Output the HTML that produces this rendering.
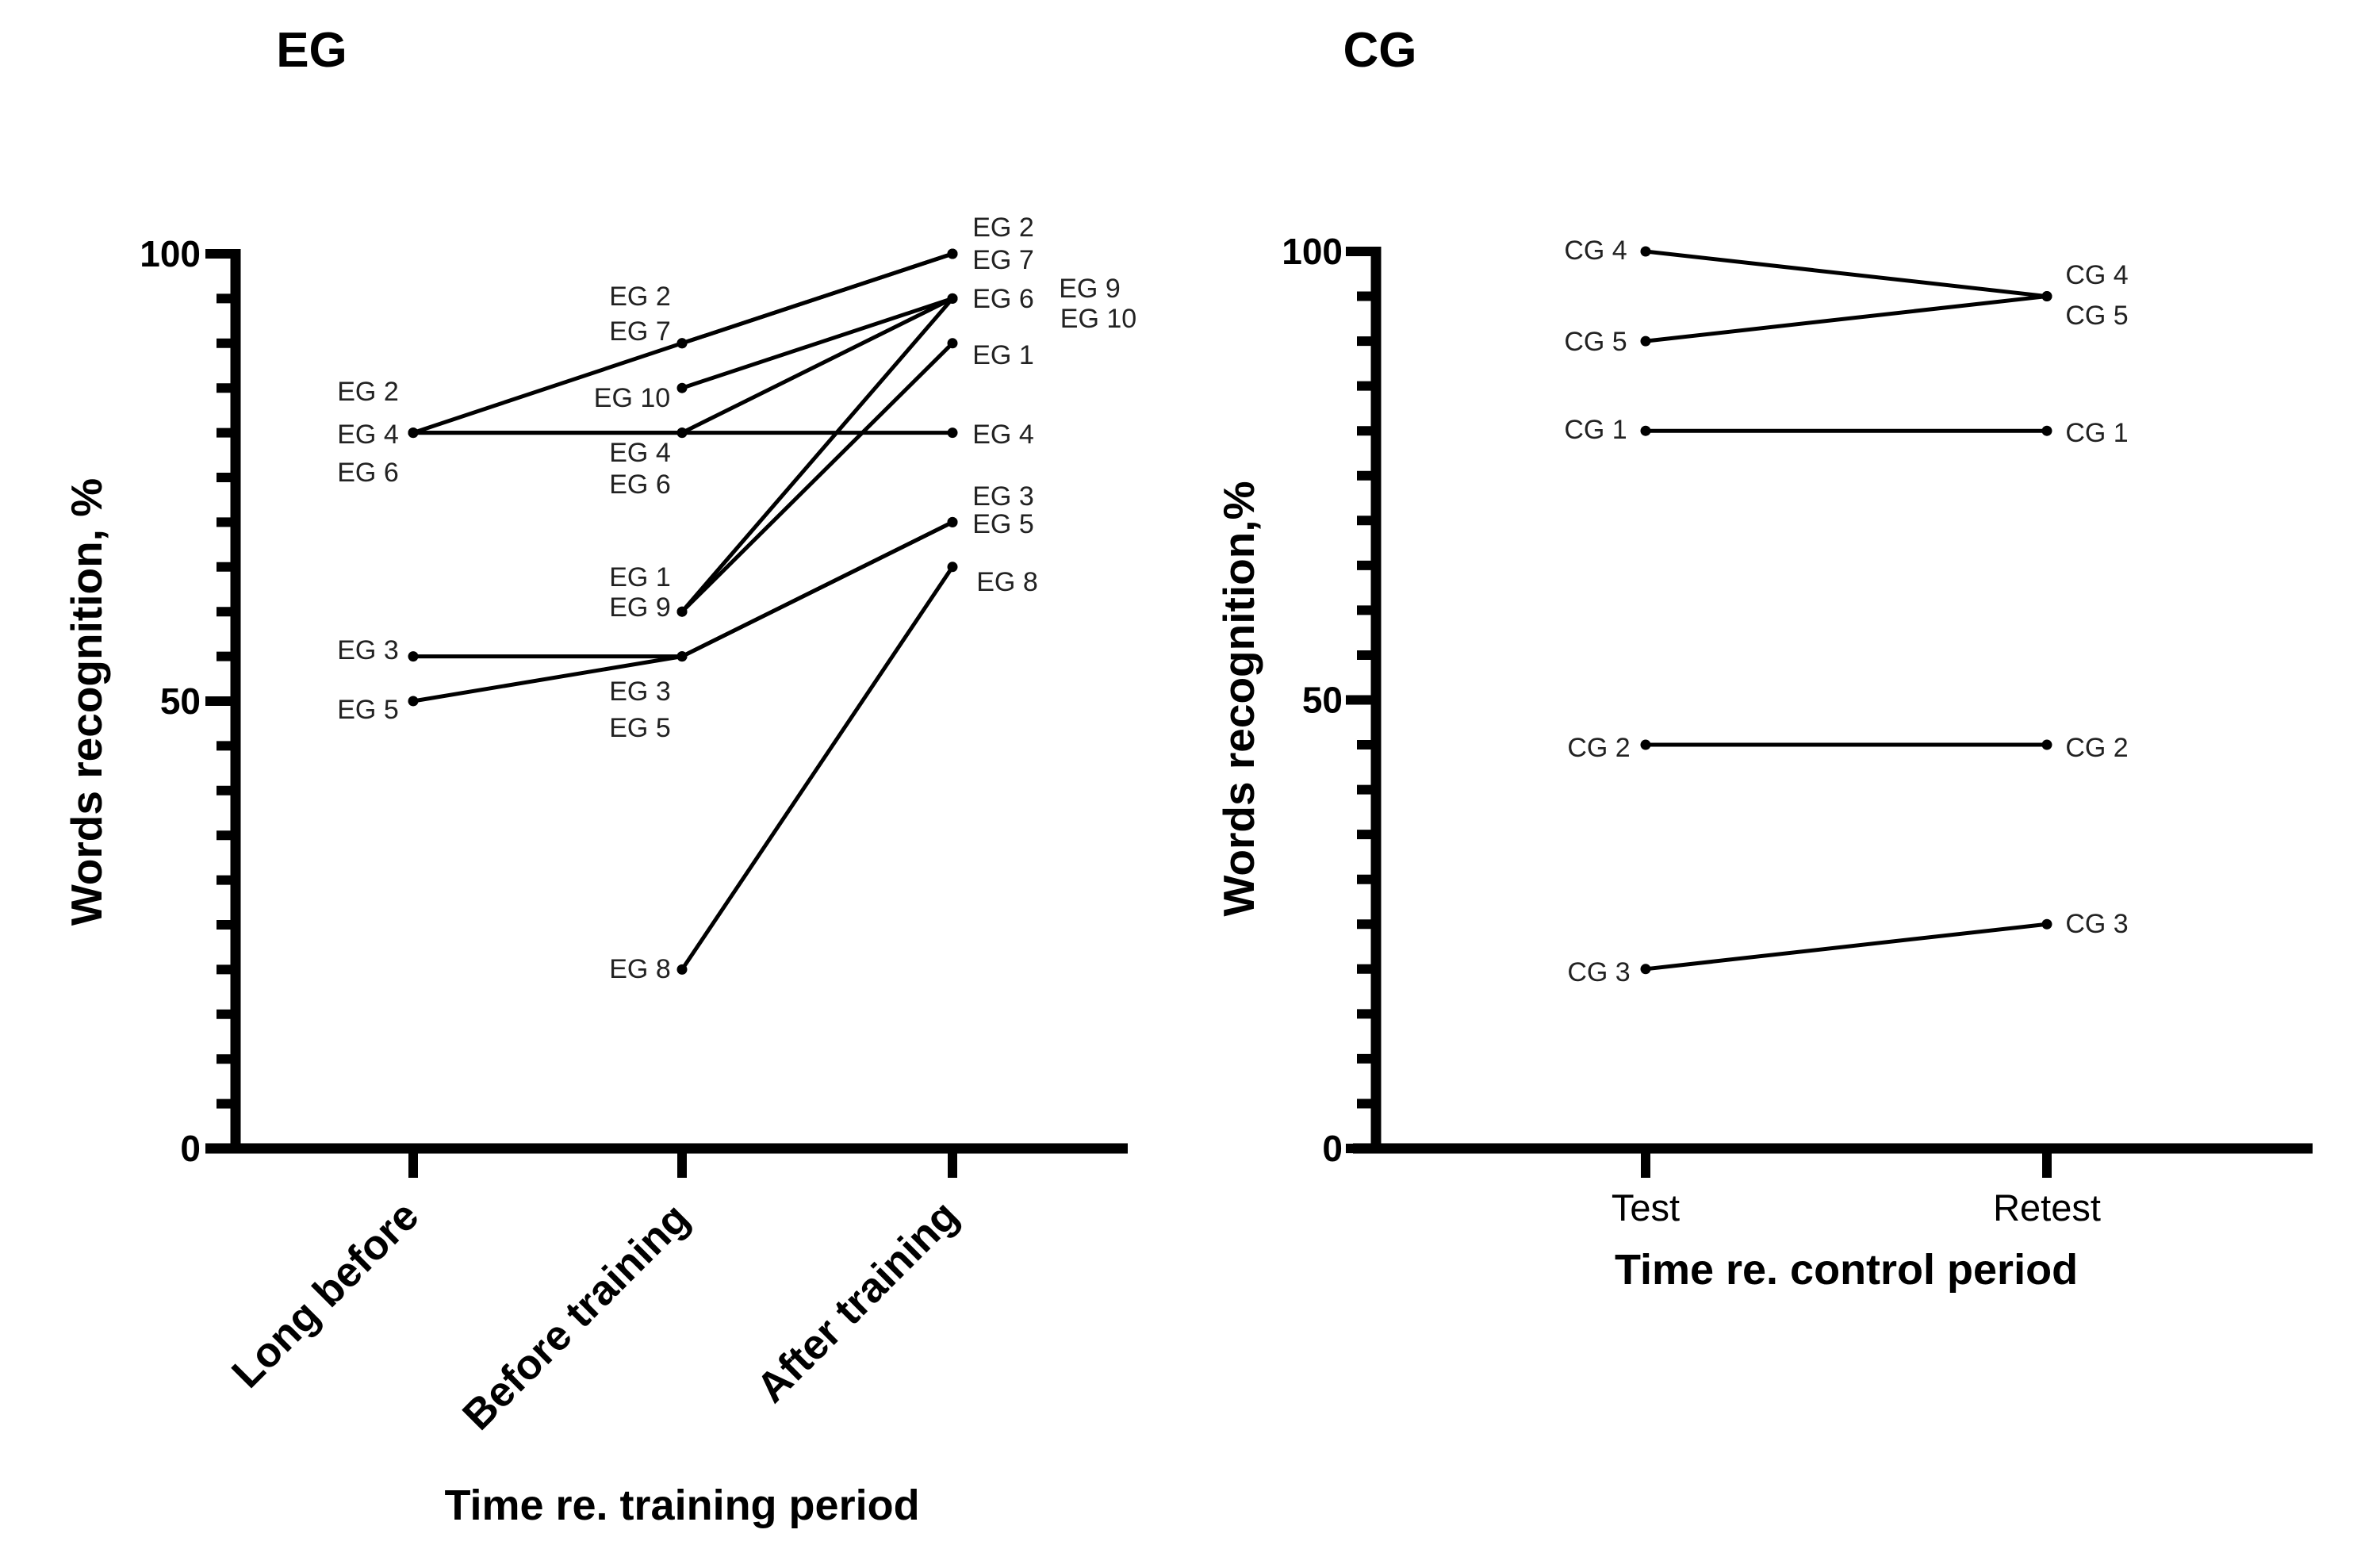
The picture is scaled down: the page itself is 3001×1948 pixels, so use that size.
<!DOCTYPE html>
<html><head><meta charset="utf-8"><style>
html,body{margin:0;padding:0;background:#fff;}
svg{display:block;}
text{font-family:"Liberation Sans",Arial,sans-serif;}
</style></head>
<body>
<svg id="chart" width="3001" height="1948" viewBox="0 0 3001 1948" xmlns="http://www.w3.org/2000/svg">
<rect width="3001" height="1948" fill="#fff"/>
<g id="eg"></g>
<g id="cg"></g>
</svg>
<script>
// ---- EG data ----
const egCategories = ["Long before", "Before training", "After training"];
const egSubjects = ["EG 1","EG 2","EG 3","EG 4","EG 5","EG 6","EG 7","EG 8","EG 9","EG 10"];
const egValues = [
  [null, 60, 90],
  [80, 90, 100],
  [55, 55, 70],
  [80, 80, 80],
  [50, 55, 70],
  [80, 80, 95],
  [null, 90, 100],
  [null, 20, 65],
  [null, 60, 95],
  [null, 85, 95]
];
// ---- CG data ----
const cgCategories = ["Test", "Retest"];
const cgSubjects = ["CG 1","CG 2","CG 3","CG 4","CG 5"];
const cgValues = [
  [80, 80],
  [45, 45],
  [20, 25],
  [100, 95],
  [90, 95]
];
const yTickLabels = [0, 50, 100];

const NS = "http://www.w3.org/2000/svg";
function mk(parent, tag, attrs, txt) {
  const e = document.createElementNS(NS, tag);
  for (const k in attrs) e.setAttribute(k, attrs[k]);
  if (txt !== undefined) e.textContent = txt;
  parent.appendChild(e);
  return e;
}

function panel(g, cfg) {
  const y = v => cfg.y0 - (v / 100) * (cfg.y0 - cfg.y100);
  const x = i => cfg.cx[i];
  let e = mk(g, "line", {x1: cfg.ax, y1: cfg.y100 - 6, x2: cfg.ax, y2: cfg.y0 + 6, stroke: "#000", "stroke-width": 13});
  
  
  e = mk(g, "line", {x1: cfg.xs, y1: cfg.y0, x2: cfg.xe, y2: cfg.y0, stroke: "#000", "stroke-width": 13});
  
  
  for (let v = 0; v <= 100; v += 5) {
    const major = v % 50 === 0;
    e = mk(g, "line", {x1: cfg.ax - (major ? 38 : 24), y1: y(v), x2: cfg.ax, y2: y(v), stroke: "#000", "stroke-width": 12});
    
    
  }
  yTickLabels.forEach(v => {
    const t = mk(g, "text", {x: cfg.ax - cfg.lblOff, y: y(v) + 16, "text-anchor": "end", "font-size": 46, "font-weight": "bold"}, String(v));
    
    
  });
  cfg.cx.forEach(cx => {
    const t = mk(g, "line", {x1: cx, y1: cfg.y0, x2: cx, y2: cfg.y0 + 37, stroke: "#000", "stroke-width": 12});
    
    
  });
  cfg.values.forEach((vals, si) => {
    const sg = mk(g, "g", {});
    
    
    for (let i = 0; i < vals.length - 1; i++) {
      if (vals[i] === null || vals[i + 1] === null) continue;
      const l = mk(sg, "line", {x1: x(i), y1: y(vals[i]), x2: x(i + 1), y2: y(vals[i + 1]), stroke: "#000", "stroke-width": 5});
      
      
    }
    vals.forEach((v, i) => {
      if (v === null) return;
      const c = mk(sg, "circle", {cx: x(i), cy: y(v), r: 6.5, fill: "#000"});
      
      
    });
  });
}

const eg = document.getElementById("eg");
panel(eg, {ax: 297, y0: 1448, y100: 320, xs: 259, xe: 1422, cx: [521, 860, 1201], values: egValues, subjects: egSubjects, lblOff: 44});
const cg = document.getElementById("cg");
panel(cg, {ax: 1735, y0: 1448, y100: 317, xs: 1706, xe: 2916, cx: [2075, 2581], values: cgValues, subjects: cgSubjects, lblOff: 42});

const egLabels = [
  ["EG 2",464,494],["EG 4",464,548],["EG 6",464,596],["EG 3",464,820],["EG 5",464,895],
  ["EG 2",807,374],["EG 7",807,418],["EG 10",797,502],["EG 4",807,571],["EG 6",807,611],
  ["EG 1",807,728],["EG 9",807,766],["EG 3",807,872],["EG 5",807,918],["EG 8",807,1222],
  ["EG 2",1265,287],["EG 7",1265,328],["EG 6",1265,377],["EG 9",1374,364],["EG 10",1385,402],
  ["EG 1",1265,448],["EG 4",1265,548],["EG 3",1265,626],["EG 5",1265,661],["EG 8",1270,734]
];
const cgLabels = [
  ["CG 4",2012,316],["CG 5",2012,431],["CG 1",2012,542],["CG 2",2016,943],["CG 3",2016,1226],
  ["CG 4",2644,347],["CG 5",2644,398],["CG 1",2644,546],["CG 2",2644,943],["CG 3",2644,1165]
];
[[eg, egLabels],[cg, cgLabels]].forEach(([g, arr]) => arr.forEach(([t, lx, ly]) => {
  const e = mk(g, "text", {x: lx, y: ly + 11, "text-anchor": "middle", "font-size": 34, fill: "#222"}, t);
  
  
}));

const egCatPos = [[410,1632],[726,1660],[1081,1641]];
egCategories.forEach((c, i) => {
  const [px, py] = egCatPos[i];
  const e = mk(eg, "text", {x: px, y: py + 18, "text-anchor": "middle", "font-size": 53, "font-weight": "bold", transform: `rotate(-45 ${px} ${py})`}, c);
  
  
});
const cgCatX = [2075, 2581];
cgCategories.forEach((c, i) => {
  const e = mk(cg, "text", {x: cgCatX[i], y: 1539, "text-anchor": "middle", "font-size": 47}, c);
  
  
});

function txt(g, name, s, x, y, size, rot) {
  const a = {x: x, y: y, "text-anchor": "middle", "font-size": size, "font-weight": "bold"};
  if (rot) a.transform = `rotate(-90 ${x} ${y})`;
  const e = mk(g, "text", a, s);
  
  
}
txt(eg, "panel-title", "EG", 393, 84, 62);
txt(cg, "panel-title", "CG", 1740, 84, 62);
txt(eg, "y-axis-title", "Words recognition, %", 128, 885, 55, true);
txt(cg, "y-axis-title", "Words recognition,%", 1581, 881, 55, true);
txt(eg, "x-axis-title", "Time re. training period", 860, 1916, 54);
txt(cg, "x-axis-title", "Time re. control period", 2328, 1619, 54);
</script>
</body></html>
